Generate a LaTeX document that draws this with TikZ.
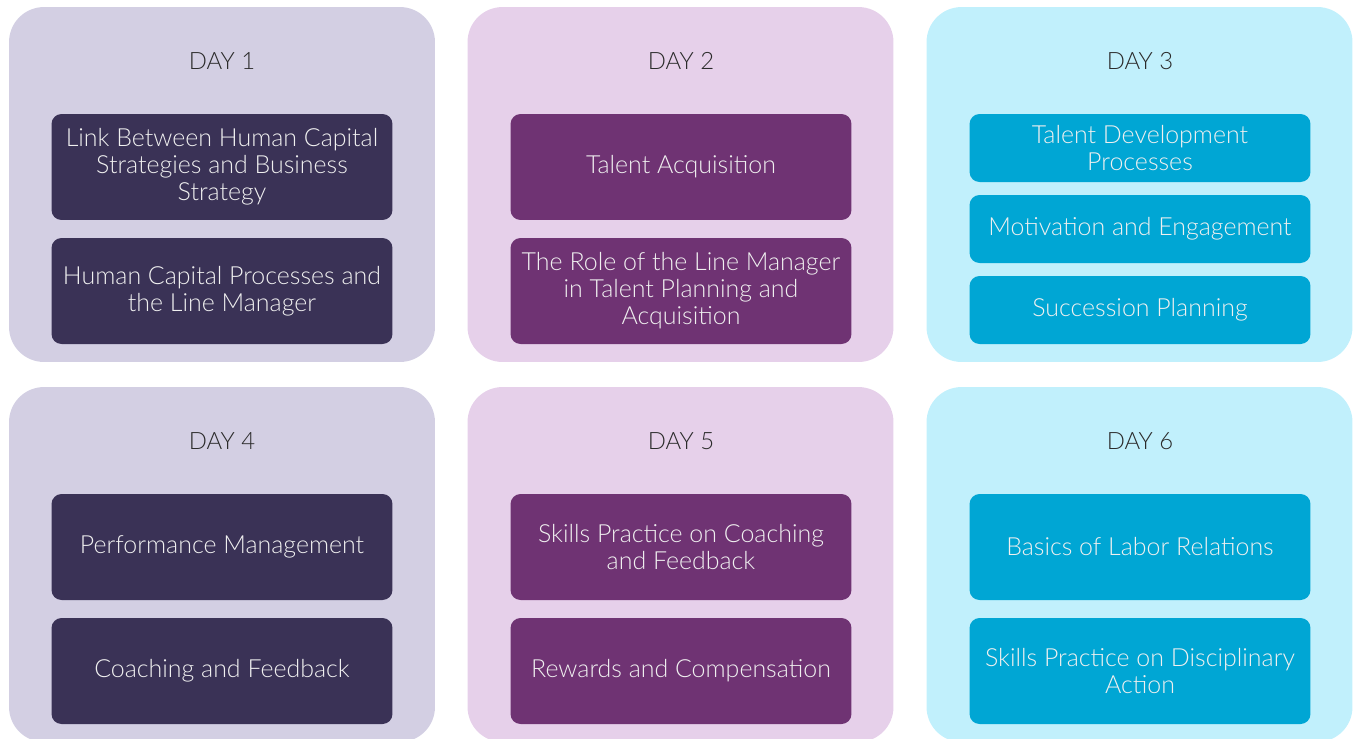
\documentclass[tikz,border=0pt]{standalone}
\usepackage{fontspec}
\setmainfont{Lato Light}
\usepackage{tikz}

\definecolor{slatebg}{HTML}{D3CFE3}
\definecolor{slatebox}{HTML}{3A3256}
\definecolor{plumbg}{HTML}{E6D0EA}
\definecolor{plumbox}{HTML}{6F3373}
\definecolor{skybg}{HTML}{C1F0FC}
\definecolor{skybox}{HTML}{00A6D4}
\definecolor{daytext}{HTML}{2B2B2B}

\begin{document}
\begin{tikzpicture}[x = 0.02cm, y = -0.02cm,
        panel/.style = {rounded corners = 0.7cm, minimum width = 8.52cm, minimum height = 7.1cm, inner sep = 0pt},
        daylabel/.style = {text = daytext, font = \fontsize{13.6}{15.3}\selectfont},
        topic/.style = {rounded corners = 0.2cm, minimum width = 6.82cm, minimum height = 2.12cm,
            text = white!94!black, align = center, font = \fontsize{14.2}{15.4}\selectfont},
        shorttopic/.style = {topic, minimum height = 1.36cm}]
        \useasboundingbox (0,0) rectangle (1354,738);
        \clip (0,0) rectangle (1354,738);

        \node[panel, fill=slatebg] (p1) at (222,184.5) {};
        \node[panel, fill=plumbg] (p2) at (680.5,184.5) {};
        \node[panel, fill=skybg] (p3) at (1139.5,184.5) {};
        \node[panel, fill=slatebg] (p4) at (222,564.5) {};
        \node[panel, fill=plumbg] (p5) at (680.5,564.5) {};
        \node[panel, fill=skybg] (p6) at (1139.5,564.5) {};

        \node[daylabel] (d1) at (222,61) {DAY 1};
        \node[daylabel] (d2) at (681,61) {DAY 2};
        \node[daylabel] (d3) at (1140,61) {DAY 3};
        \node[daylabel] (d4) at (222,441) {DAY 4};
        \node[daylabel] (d5) at (681,441) {DAY 5};
        \node[daylabel] (d6) at (1140,441) {DAY 6};

        \node[topic, fill=slatebox] (d1a) at (222,167) {Link Between Human Capital\\Strategies and Business\\Strategy};
        \node[topic, fill=slatebox] (d1b) at (222,291) {Human Capital Processes and\\the Line Manager};

        \node[topic, fill=plumbox] (d2a) at (681,167) {Talent Acquisition};
        \node[topic, fill=plumbox] (d2b) at (681,291) {The Role of the Line Manager\\in Talent Planning and\\Acquisition};

        \node[shorttopic, fill=skybox] (d3a) at (1140,148) {Talent Development\\Processes};
        \node[shorttopic, fill=skybox] (d3b) at (1140,229) {Motivation and Engagement};
        \node[shorttopic, fill=skybox] (d3c) at (1140,310) {Succession Planning};

        \node[topic, fill=slatebox] (d4a) at (222,547) {Performance Management};
        \node[topic, fill=slatebox] (d4b) at (222,671) {Coaching and Feedback};

        \node[topic, fill=plumbox] (d5a) at (681,547) {Skills Practice on Coaching\\and Feedback};
        \node[topic, fill=plumbox] (d5b) at (681,671) {Rewards and Compensation};

        \node[topic, fill=skybox] (d6a) at (1140,547) {Basics of Labor Relations};
        \node[topic, fill=skybox] (d6b) at (1140,671) {Skills Practice on Disciplinary\\Action};
    \end{tikzpicture}
\end{document}
